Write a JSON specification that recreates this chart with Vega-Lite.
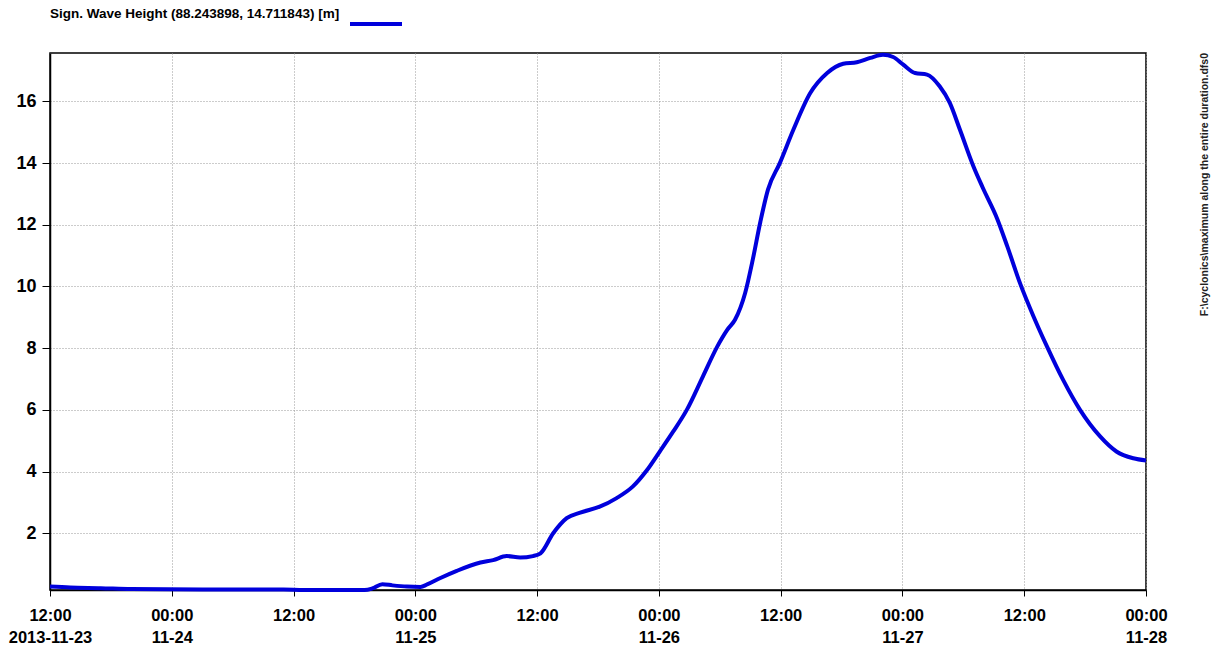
{
  "$schema": "https://vega.github.io/schema/vega-lite/v6.json",
  "autosize": {"type": "none"},
  "width": 1096,
  "height": 537,
  "padding": {"left": 50, "top": 53, "right": 75, "bottom": 61},
  "background": "white",
  "title": {
    "text": "F:\\cyclonics\\maximum along the entire duration.dfs0",
    "orient": "right",
    "frame": "group",
    "anchor": "start",
    "align": "right",
    "baseline": "bottom",
    "angle": -90,
    "offset": 32,
    "fontSize": 10.5,
    "fontWeight": "bold",
    "color": "#222"
  },
  "config": {
    "view": {"stroke": "#000", "strokeWidth": 1.5},
    "font": "Liberation Sans, Arial, sans-serif"
  },
  "data": {
    "values": [
      {"time": "2013-11-23T12:00", "hs": 0.27},
      {"time": "2013-11-23T14:00", "hs": 0.24},
      {"time": "2013-11-23T17:00", "hs": 0.22},
      {"time": "2013-11-23T20:00", "hs": 0.19},
      {"time": "2013-11-24T03:00", "hs": 0.18},
      {"time": "2013-11-24T11:00", "hs": 0.18},
      {"time": "2013-11-24T13:00", "hs": 0.16},
      {"time": "2013-11-24T19:00", "hs": 0.16},
      {"time": "2013-11-24T19:45", "hs": 0.21},
      {"time": "2013-11-24T20:45", "hs": 0.35},
      {"time": "2013-11-24T21:45", "hs": 0.31},
      {"time": "2013-11-24T23:10", "hs": 0.27},
      {"time": "2013-11-25T00:30", "hs": 0.26},
      {"time": "2013-11-25T01:10", "hs": 0.34},
      {"time": "2013-11-25T02:25", "hs": 0.54},
      {"time": "2013-11-25T04:05", "hs": 0.78},
      {"time": "2013-11-25T06:25", "hs": 1.05},
      {"time": "2013-11-25T07:40", "hs": 1.13},
      {"time": "2013-11-25T09:00", "hs": 1.26},
      {"time": "2013-11-25T10:20", "hs": 1.21},
      {"time": "2013-11-25T11:35", "hs": 1.26},
      {"time": "2013-11-25T12:20", "hs": 1.35},
      {"time": "2013-11-25T13:35", "hs": 2.0},
      {"time": "2013-11-25T14:55", "hs": 2.49},
      {"time": "2013-11-25T16:15", "hs": 2.67},
      {"time": "2013-11-25T18:10", "hs": 2.86},
      {"time": "2013-11-25T19:50", "hs": 3.14},
      {"time": "2013-11-25T21:25", "hs": 3.51},
      {"time": "2013-11-25T22:50", "hs": 4.05},
      {"time": "2013-11-26T00:05", "hs": 4.65},
      {"time": "2013-11-26T01:25", "hs": 5.3},
      {"time": "2013-11-26T02:45", "hs": 6.0},
      {"time": "2013-11-26T04:20", "hs": 7.08},
      {"time": "2013-11-26T05:45", "hs": 8.05},
      {"time": "2013-11-26T06:45", "hs": 8.6},
      {"time": "2013-11-26T07:30", "hs": 8.92},
      {"time": "2013-11-26T08:30", "hs": 9.79},
      {"time": "2013-11-26T09:15", "hs": 10.87},
      {"time": "2013-11-26T10:00", "hs": 12.1},
      {"time": "2013-11-26T10:45", "hs": 13.14},
      {"time": "2013-11-26T11:55", "hs": 14.0},
      {"time": "2013-11-26T13:15", "hs": 15.08},
      {"time": "2013-11-26T14:55", "hs": 16.27},
      {"time": "2013-11-26T16:35", "hs": 16.92},
      {"time": "2013-11-26T18:10", "hs": 17.22},
      {"time": "2013-11-26T19:30", "hs": 17.27},
      {"time": "2013-11-26T20:50", "hs": 17.41},
      {"time": "2013-11-26T22:05", "hs": 17.51},
      {"time": "2013-11-26T23:05", "hs": 17.44},
      {"time": "2013-11-27T00:05", "hs": 17.19},
      {"time": "2013-11-27T01:15", "hs": 16.92},
      {"time": "2013-11-27T02:25", "hs": 16.87},
      {"time": "2013-11-27T03:40", "hs": 16.49},
      {"time": "2013-11-27T04:40", "hs": 15.95},
      {"time": "2013-11-27T05:40", "hs": 15.08},
      {"time": "2013-11-27T07:00", "hs": 13.89},
      {"time": "2013-11-27T07:55", "hs": 13.2},
      {"time": "2013-11-27T09:20", "hs": 12.2},
      {"time": "2013-11-27T10:20", "hs": 11.3},
      {"time": "2013-11-27T11:35", "hs": 10.11},
      {"time": "2013-11-27T12:55", "hs": 9.03},
      {"time": "2013-11-27T14:15", "hs": 8.05},
      {"time": "2013-11-27T15:50", "hs": 6.97},
      {"time": "2013-11-27T17:30", "hs": 6.0},
      {"time": "2013-11-27T19:30", "hs": 5.13},
      {"time": "2013-11-27T21:05", "hs": 4.65},
      {"time": "2013-11-27T22:45", "hs": 4.43},
      {"time": "2013-11-28T00:00", "hs": 4.36}
    ]
  },
  "mark": {"type": "line", "strokeWidth": 4, "interpolate": "monotone", "clip": false},
  "encoding": {
    "x": {
      "field": "time",
      "type": "temporal",
      "scale": {"nice": false},
      "axis": {
        "title": null,
        "values": [
          {"year": 2013, "month": 11, "date": 23, "hours": 12},
          {"year": 2013, "month": 11, "date": 24, "hours": 0},
          {"year": 2013, "month": 11, "date": 24, "hours": 12},
          {"year": 2013, "month": 11, "date": 25, "hours": 0},
          {"year": 2013, "month": 11, "date": 25, "hours": 12},
          {"year": 2013, "month": 11, "date": 26, "hours": 0},
          {"year": 2013, "month": 11, "date": 26, "hours": 12},
          {"year": 2013, "month": 11, "date": 27, "hours": 0},
          {"year": 2013, "month": 11, "date": 27, "hours": 12},
          {"year": 2013, "month": 11, "date": 28, "hours": 0}
        ],
        "labelOverlap": false,
        "labelFlush": false,
        "labelExpr": "hours(datum.value) == 0 ? [timeFormat(datum.value, '%H:%M'), timeFormat(datum.value, '%m-%d')] : (date(datum.value) == 23 ? [timeFormat(datum.value, '%H:%M'), timeFormat(datum.value, '%Y-%m-%d')] : timeFormat(datum.value, '%H:%M'))",
        "labelFontSize": 16.5,
        "labelFontWeight": "bold",
        "labelColor": "#000",
        "labelPadding": 11,
        "labelLineHeight": 22,
        "domainColor": "#000",
        "domainWidth": 1.5,
        "tickColor": "#000",
        "tickSize": 6,
        "grid": true,
        "gridColor": "#999",
        "gridDash": [1, 2]
      }
    },
    "y": {
      "field": "hs",
      "type": "quantitative",
      "scale": {"domain": [0.16, 17.57], "nice": false, "zero": false},
      "axis": {
        "title": null,
        "values": [2, 4, 6, 8, 10, 12, 14, 16],
        "labelFontSize": 18,
        "labelFontWeight": "bold",
        "labelColor": "#000",
        "labelPadding": 6,
        "domainColor": "#000",
        "domainWidth": 1.5,
        "tickColor": "#000",
        "tickSize": 8,
        "grid": true,
        "gridColor": "#999",
        "gridDash": [1, 2]
      }
    },
    "color": {
      "datum": "Sign. Wave Height",
      "type": "nominal",
      "scale": {"range": ["#0000dc"]},
      "legend": {
        "orient": "none",
        "legendX": 0,
        "legendY": -57,
        "title": "Sign. Wave Height (88.243898, 14.711843) [m]",
        "titleOrient": "left",
        "titleAnchor": "middle",
        "titleBaseline": "middle",
        "titleLimit": 600,
        "titleFontSize": 13.5,
        "titleFontWeight": "bold",
        "titleColor": "#000",
        "titlePadding": 8,
        "symbolType": "stroke",
        "symbolStrokeWidth": 4,
        "symbolSize": 2704,
        "labelExpr": "''"
      }
    }
  }
}
